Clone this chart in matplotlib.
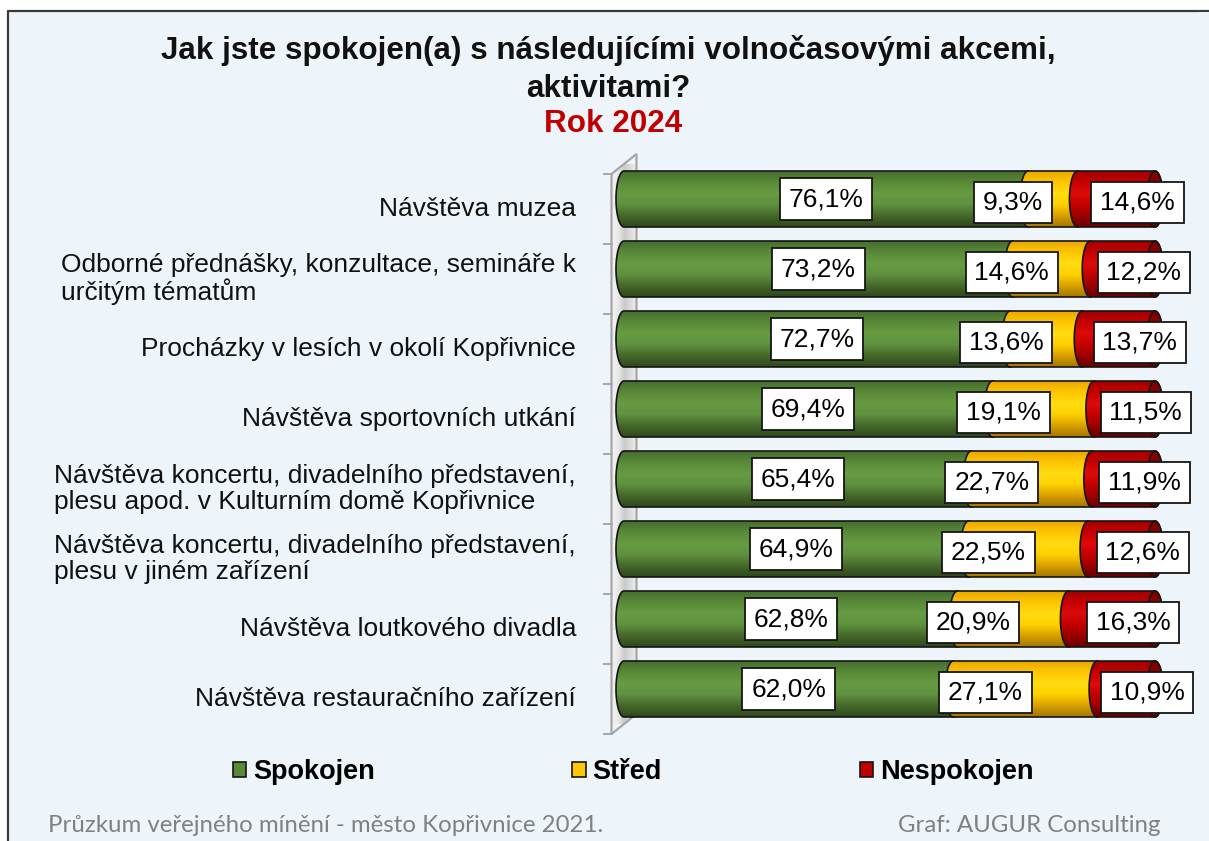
import numpy as np
import matplotlib
matplotlib.use('Agg')
from matplotlib import pyplot as plt
from matplotlib.patches import Polygon, Rectangle, Patch
from matplotlib.lines import Line2D
from matplotlib.colors import LinearSegmentedColormap

# data
categories = ['Návštěva muzea',
              'Odborné přednášky, konzultace, semináře k\nurčitým tématům',
              'Procházky v lesích v okolí Kopřivnice',
              'Návštěva sportovních utkání',
              'Návštěva koncertu, divadelního představení,\nplesu apod. v Kulturním domě Kopřivnice',
              'Návštěva koncertu, divadelního představení,\nplesu v jiném zařízení',
              'Návštěva loutkového divadla',
              'Návštěva restauračního zařízení']
spokojen = [76.1, 73.2, 72.7, 69.4, 65.4, 64.9, 62.8, 62.0]
stred = [9.3, 14.6, 13.6, 19.1, 22.7, 22.5, 20.9, 27.1]
nespokojen = [14.6, 12.2, 13.7, 11.5, 11.9, 12.6, 16.3, 10.9]
seriesNames = ['Spokojen', 'Střed', 'Nespokojen']

W, H = 1209, 841
BG = '#EEF5FA'
FONT = 'Liberation Sans'

# pixel layout of the plot (0 % at px 624, 100 % at px 1155, rows 70 px apart)
PX0, PXPER = 624.0, 5.31
AX_L, AX_R, AX_T, AX_B = 560, 1200, 164, 724

greenCmap = LinearSegmentedColormap.from_list('g', ['#466F2D', '#5A8A38', '#679B43', '#5F9140', '#46692A', '#2E481B'])
yellowCmap = LinearSegmentedColormap.from_list('y', ['#E9A800', '#FFC600', '#FFDC12', '#FFD000', '#D9A000', '#A47600'])
redCmap = LinearSegmentedColormap.from_list('r', ['#A20000', '#C60000', '#DE0C0C', '#C40000', '#9C0000', '#6A0000'])
faceCmap = LinearSegmentedColormap.from_list('f', ['#7A0000', '#940000', '#A00000', '#8A0000', '#6A0000'])
wallCmap = LinearSegmentedColormap.from_list('w', ['#F4F4F4', '#E8E8E8', '#CACACA', '#DCDCDC', '#F0F0F0'])
legendColors = ['#5A8A38', '#FFC800', '#C00000']
cmaps = [greenCmap, yellowCmap, redCmap]

plt.rcParams['font.family'] = [FONT, 'DejaVu Sans']

fig = plt.figure(figsize=(W / 100, H / 100), dpi=100)
fig.patch.set_facecolor('white')
# chart area background + its left/top border (right/bottom lie outside the picture)
fig.patches.append(Rectangle((8 / W, 0), 1, 1 - 11 / H, transform=fig.transFigure,
                             fc=BG, ec='none', lw=0, zorder=-10))
fig.lines.append(Line2D([8 / W, 8 / W, 1], [0, 1 - 11 / H, 1 - 11 / H], transform=fig.transFigure,
                        color='#3A3A3A', lw=1.6, zorder=-9))
# keep the right margin plain background
fig.patches.append(Rectangle((1199 / W, 0), 10 / W, 1 - 12 / H, transform=fig.transFigure,
                             fc=BG, ec='none', lw=0, zorder=50))

ax = fig.add_axes([AX_L / W, 1 - AX_B / H, (AX_R - AX_L) / W, (AX_B - AX_T) / H])
ax.axis('off')
ax.patch.set_alpha(0)

rx = 8 / PXPER          # cap ellipse half-width in data units
barH = 0.8
dx3d = 12.5 / PXPER     # 3d depth offset
dy3d = 10 / 70.0
grad = np.linspace(0, 1, 80).reshape(-1, 1)


def halfEllipses(x0, x1, yc, h, n=40):
    tl = np.linspace(np.pi / 2, 3 * np.pi / 2, n)
    tr = np.linspace(-np.pi / 2, np.pi / 2, n)
    left = np.column_stack([x0 + rx * np.cos(tl), yc - h / 2 * np.sin(tl)])
    right = np.column_stack([x1 + rx * np.cos(tr), yc - h / 2 * np.sin(tr)])
    return np.vstack([left, right])


def drawShape(pts, cmap, ext, z):
    poly = Polygon(pts, closed=True, fc='none', ec='#151515', lw=1.2, zorder=z + 0.1)
    ax.add_patch(poly)
    im = ax.imshow(grad, cmap=cmap, aspect='auto', extent=ext, origin='upper',
                   interpolation='bicubic', zorder=z)
    im.set_clip_path(poly)


# left wall of the 3d plot
wallPts = [(-dx3d, 0 + dy3d), (dx3d, 0 - dy3d), (dx3d, len(categories) - dy3d), (-dx3d, len(categories) + dy3d)]
wall = Polygon(wallPts, closed=True, fc='none', ec='#A6A6A6', lw=1.6, zorder=1.1, clip_on=False)
ax.add_patch(wall)
wim = ax.imshow(np.linspace(0, 1, 60).reshape(1, -1), cmap=wallCmap, aspect='auto',
                extent=(-dx3d, dx3d, len(categories) + dy3d, -dy3d), origin='upper', zorder=1)
wim.set_clip_path(wall)
for k in range(len(categories) + 1):
    ax.plot([-dx3d - 8 / PXPER, -dx3d], [k + dy3d, k + dy3d], color='#A6A6A6', lw=1.4, clip_on=False, zorder=1.2)

labelDx = [0, -7.5, 4]
labelDy = [0, 0.05, 0.05]
for i, cat in enumerate(categories):
    yc = i + 0.5
    vals = [spokojen[i], stred[i], nespokojen[i]]
    starts = np.cumsum([0] + vals[:-1])
    for j, (v, s) in enumerate(zip(vals, starts)):
        pts = halfEllipses(s, s + v, yc, barH)
        drawShape(pts, cmaps[j], (s - rx, s + v + rx, yc + barH / 2, yc - barH / 2), 2 + j)
    # end face of the cylinder
    tEnd = np.linspace(0, 2 * np.pi, 80)
    xe = starts[-1] + vals[-1]
    facePts = np.column_stack([xe + rx * np.cos(tEnd), yc + barH / 2 * np.sin(tEnd)])
    drawShape(facePts, faceCmap, (xe - rx, xe + rx, yc + barH / 2, yc - barH / 2), 5)

    # value labels
    for j, (v, s) in enumerate(zip(vals, starts)):
        ax.text(s + v / 2 + labelDx[j], yc + labelDy[j], '{:.1f}%'.format(v).replace('.', ','),
                ha='center', va='center', fontsize=19, zorder=10,
                bbox=dict(boxstyle='square,pad=0.33', fc='white', ec='#151515', lw=1.3))

    # category label
    ax.text((576 - PX0) / PXPER, yc + dy3d, cat, ha='right', va='center', ma='left',
            fontsize=19, linespacing=1.1, color='#111111')

ax.set_xlim((AX_L - PX0) / PXPER, (AX_R - PX0) / PXPER)
ax.set_ylim(len(categories), 0)

# titles
fig.text(608 / W, 1 - 50 / H, 'Jak jste spokojen(a) s následujícími volnočasovými akcemi,',
         ha='center', va='center', fontsize=22.6, weight='bold', color='#111111')
fig.text(608 / W, 1 - 89 / H, 'aktivitami?', ha='center', va='center', fontsize=22.6,
         weight='bold', color='#111111')
fig.text(613 / W, 1 - 124 / H, 'Rok 2024', ha='center', va='center', fontsize=22.6,
         weight='bold', color='#C00000')

# legend
handles = [Patch(fc=c, ec='#151515', lw=1.2, label=n) for c, n in zip(legendColors, seriesNames)]
fig.legend(handles=handles, loc='center', bbox_to_anchor=(633 / W, 1 - 772 / H), ncol=3, frameon=False,
           prop=dict(family=FONT, weight='bold', size=19.5), handlelength=0.5, handleheight=0.5,
           handletextpad=0.25, columnspacing=7.3)

# footer
fig.text(48 / W, 1 - 826 / H, 'Průzkum veřejného mínění - město Kopřivnice 2021.', ha='left', va='center',
         fontsize=17.3, color='#808080', family=['Lato', 'DejaVu Sans'])
fig.text(1160 / W, 1 - 826 / H, 'Graf: AUGUR Consulting', ha='right', va='center',
         fontsize=17.3, color='#808080', family=['Lato', 'DejaVu Sans'])

fig.savefig('out.png', dpi=100, facecolor=fig.get_facecolor())
